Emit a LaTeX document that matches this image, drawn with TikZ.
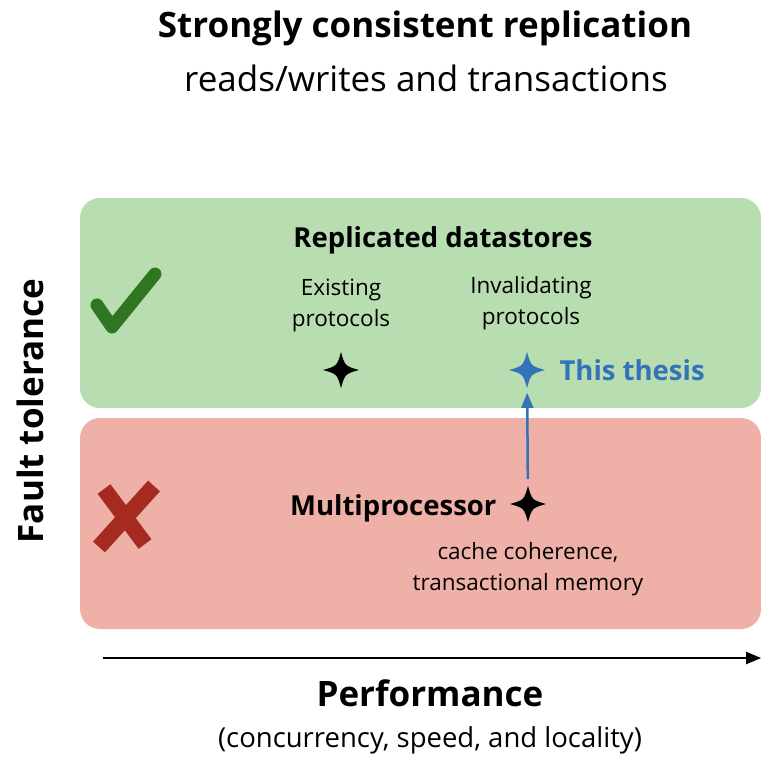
\documentclass[tikz,border=0pt]{standalone}
\usepackage{fontspec}
\setmainfont{Open Sans}
\usetikzlibrary{positioning}
\usetikzlibrary{arrows}
\definecolor{panelgreen}{RGB}{184,221,176}
\definecolor{panelred}{RGB}{239,176,168}
\definecolor{thesisblue}{RGB}{52,115,185}
\definecolor{tickgreen}{RGB}{47,117,34}
\definecolor{crossred}{RGB}{165,42,31}
\tikzset{
    % Filled triangular heads on both arrows
    >=triangle 45,
%
    % Background panel for one class of system
    panel/.style={rounded corners=20pt},
%
    % Text sizes, given in pt because one unit is one pixel here
    heading/.style={font=\fontsize{35}{40}\selectfont\bfseries},
    subheading/.style={font=\fontsize{35}{40}\selectfont},
    box title/.style={font=\fontsize{27.5}{32}\selectfont\bfseries},
    box text/.style={font=\fontsize{22.5}{31}\selectfont, align=center},
%
    % A four pointed star marking one kind of system
    sparkle/.pic={
        \fill (0,-18) .. controls (4,-4) .. (18,0)
            .. controls (4,4) .. (0,18)
            .. controls (-4,4) .. (-18,0)
            .. controls (-4,-4) .. cycle;
    }}

\begin{document}
\begin{tikzpicture}[x=1pt, y=-1pt]

\useasboundingbox (0,0) rectangle (761,756);

% Title

\node [heading] (title) at (425,28) {Strongly consistent replication};
\node [subheading] (subtitle) at (426,78) {reads/writes and transactions};

% The two panels

\path [panel, fill=panelgreen] (80,198) rectangle (761,408);
\path [panel, fill=panelred] (80,418) rectangle (761,629);

% Replicated datastores

\node [box title] (datastores) at (443,240) {Replicated datastores};
\node [box text] (existing) at (341,305) {Existing\\protocols};
\node [box text] (invalidating) at (531,303) {Invalidating\\protocols};

\coordinate (existingstar) at (341,370);
\coordinate (thesisstar) at (527,370);
\pic at (existingstar) {sparkle};
\pic [thesisblue] at (thesisstar) {sparkle};
\node [box title, text=thesisblue, anchor=west] (thesis) at (556,370)
    {This thesis};

\draw [line cap=round, line join=round, line width=13pt, tickgreen]
    (97,305) -- (112,327) -- (155,274);

% Multiprocessor

\node [box title, anchor=east] (multi) at (500,508) {Multiprocessor};
\coordinate (multistar) at (528,504);
\pic at (multistar) {sparkle};
\node [box text] (coherence) at (528,569)
    {cache coherence,\\transactional memory};

\draw [line width=16pt, crossred]
    (104,489) -- (145,544)
    (154,486) -- (99,547);

\draw [thesisblue, line width=2.5pt, ->, shorten <=25pt,
    shorten >=23pt] (multistar) -- (thesisstar);

% Axes

\coordinate (axisleft) at (103,658);
\coordinate (axisright) at (761,658);
\draw [line width=2.5pt, ->] (axisleft) -- (axisright);

\node [font=\fontsize{35}{40}\selectfont\bfseries] (performance)
    at (430,693) {Performance};
\node [font=\fontsize{27.5}{32}\selectfont] (perfnote) at (430,740)
    {(concurrency, speed, and locality)};

\node [heading, rotate=90] (fault) at (30,411) {Fault tolerance};

\end{tikzpicture}
\end{document}
